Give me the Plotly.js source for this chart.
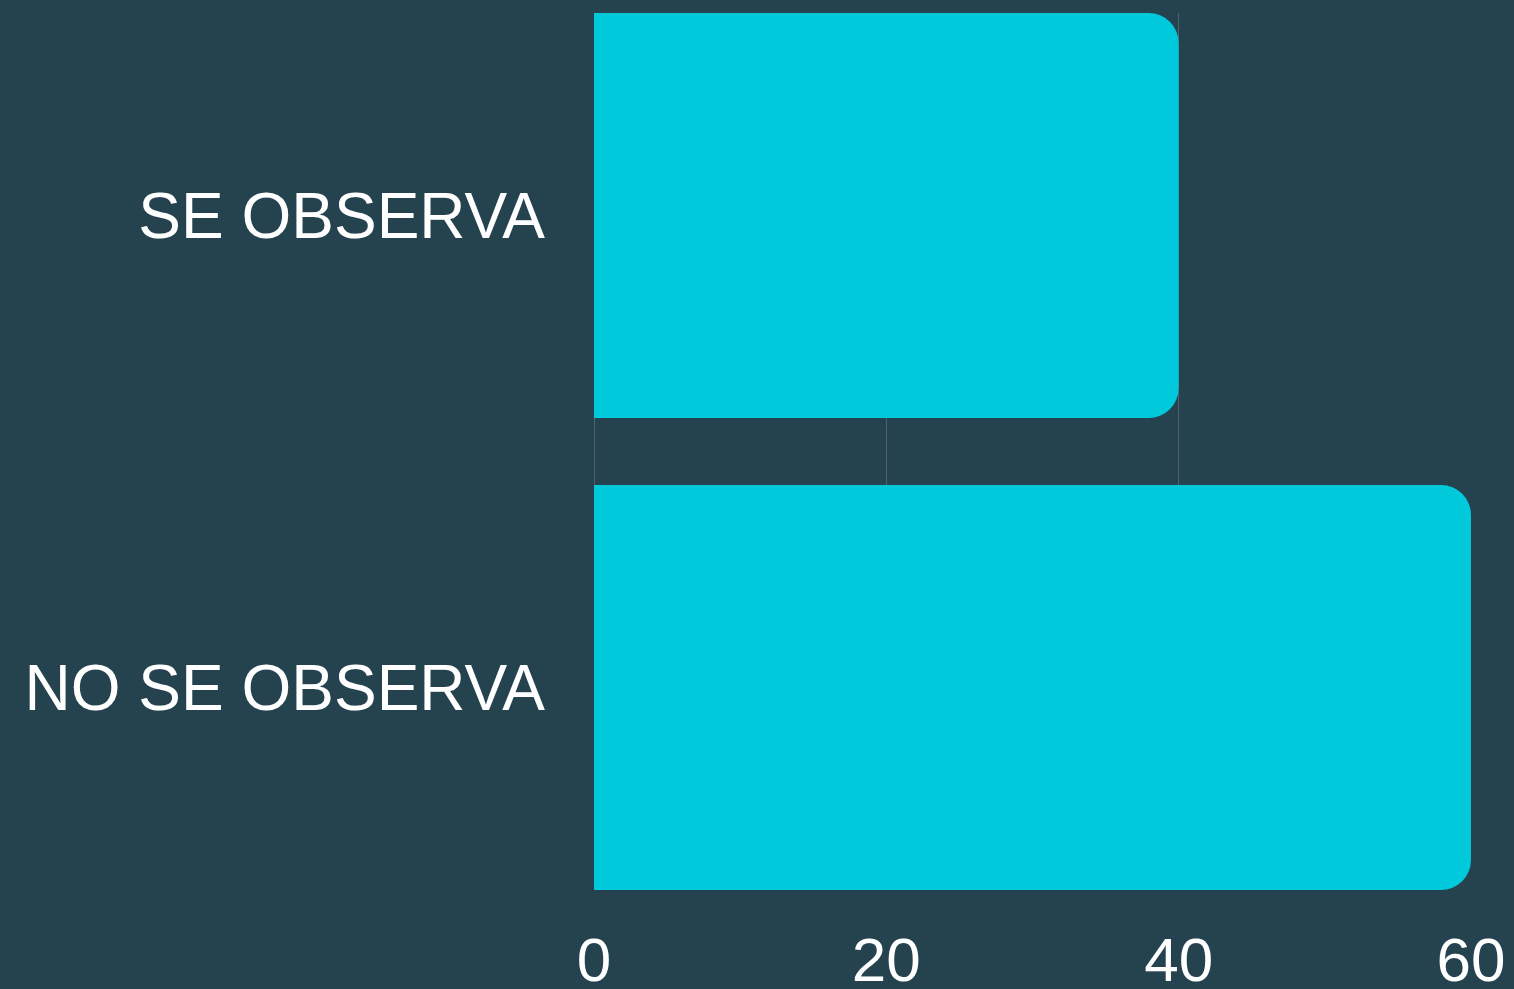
<!DOCTYPE html>
<html>
<head>
<meta charset="utf-8">
<script src="https://cdn.plot.ly/plotly-3.0.1.min.js"></script>
<style>html,body{margin:0;padding:0;background:#25424f;}#chart{width:1514px;height:989px;}</style>
</head>
<body>
<div id="chart"></div>
<script>
const categories = ['NO SE OBSERVA', 'SE OBSERVA'];
const values = [60, 40];
const xTicks = [0, 20, 40, 60];

const data = [{
  type: 'bar',
  orientation: 'h',
  y: categories,
  x: values,
  marker: {color: '#00c9db', line: {width: 0}},
  hoverinfo: 'none'
}];

const layout = {
  width: 1514,
  height: 989,
  paper_bgcolor: '#25424f',
  plot_bgcolor: '#25424f',
  margin: {l: 594, r: 43, t: 13, b: 99, pad: 0},
  bargap: 0.142,
  barcornerradius: 30,
  showlegend: false,
  font: {family: 'Liberation Sans, Arial, sans-serif', color: '#ffffff', size: 60},
  xaxis: {
    range: [0, 60],
    tickvals: xTicks,
    ticktext: xTicks.map(String),
    showgrid: true,
    gridcolor: 'rgba(255,255,255,0.18)',
    gridwidth: 1,
    zeroline: true,
    zerolinecolor: 'rgba(255,255,255,0.18)',
    zerolinewidth: 1,
    showline: false,
    ticks: '',
    ticklabelstandoff: 28,
    tickfont: {size: 62, color: '#ffffff'},
    fixedrange: true
  },
  yaxis: {
    type: 'category',
    categoryorder: 'array',
    categoryarray: categories,
    range: [-0.429, 1.429],
    showgrid: false,
    zeroline: false,
    showline: false,
    ticks: '',
    ticklabelstandoff: 48,
    tickfont: {size: 64, color: '#ffffff'},
    fixedrange: true
  }
};

Plotly.newPlot('chart', data, layout, {displayModeBar: false, staticPlot: true});
</script>
</body>
</html>
